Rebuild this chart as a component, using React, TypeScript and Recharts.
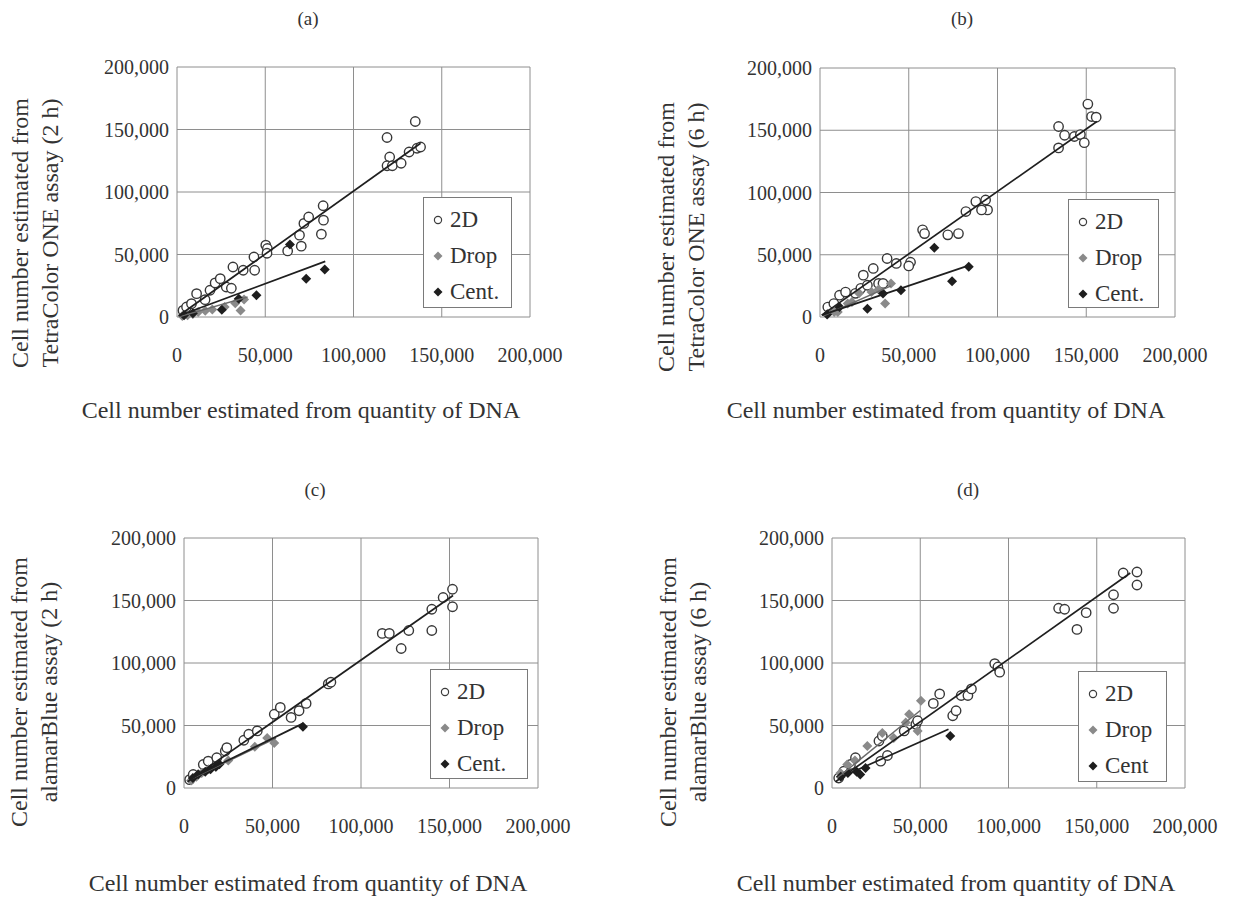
import React from "react";
import { CartesianGrid, Scatter, ScatterChart, XAxis, YAxis } from "recharts";

type Pt = [number, number];

const AXIS_TICKS = [0, 50000, 100000, 150000, 200000];
const SERIES_NAMES = ["2D", "Drop", "Cent."];
const SERIES_NAMES_D = ["2D", "Drop", "Cent"];

const X_TITLE = "Cell number estimated from quantity of DNA";
const Y_TITLE_TOP = "Cell number estimated from";
const Y_TITLE_A = "TetraColor ONE assay (2 h)";
const Y_TITLE_B = "TetraColor ONE assay (6 h)";
const Y_TITLE_C = "alamarBlue assay (2 h)";
const Y_TITLE_D = "alamarBlue assay (6 h)";

// (a) TetraColor ONE, 2 h
const a2D: Pt[] = [
  [3400, 5300], [5400, 8000], [8200, 10700], [11100, 18700], [15900, 13900],
  [18700, 21400], [21600, 27300], [24500, 30700], [27900, 24000], [30800, 23000],
  [31700, 40000], [37500, 37400], [44000, 37400], [43600, 48000], [50300, 57500],
  [51200, 54800], [51000, 51000], [62700, 52900], [70400, 56700], [69400, 65500],
  [71900, 74900], [74600, 80000], [81800, 66300], [83000, 77500], [82800, 89000],
  [119000, 143600], [120500, 128000], [119000, 121000], [122000, 121000],
  [127000, 123000], [131500, 132000], [135000, 156400], [136000, 135000],
  [138000, 136000],
];
const aDrop: Pt[] = [
  [3000, 800], [6000, 1500], [9000, 2500], [12000, 4000], [16000, 5000],
  [20000, 6000], [27000, 8000], [33000, 11000], [36000, 5300], [38000, 14000],
];
const aCent: Pt[] = [
  [4000, 1500], [9000, 3000], [25400, 5900], [35000, 14700], [45000, 17400],
  [64000, 58000], [73200, 30700], [83700, 38000],
];
const aFit2D: Pt[] = [[1000, 1000], [138000, 139000]];
const aFitDrop: Pt[] = [[2000, 500], [40000, 16000]];
const aFitCent: Pt[] = [[1000, 1000], [84000, 44500]];

// (b) TetraColor ONE, 6 h
const b2D: Pt[] = [
  [4400, 8000], [7800, 10800], [11000, 17500], [14400, 20000], [20000, 19000],
  [23000, 23000], [24400, 33600], [26700, 25500], [30000, 39000], [33000, 27000],
  [35500, 27000], [37800, 47000], [43000, 43000], [51000, 44000], [50000, 41000],
  [57800, 70000], [58900, 67000], [72000, 66000], [78000, 67000], [82200, 84700],
  [87800, 92700], [93300, 94000], [94400, 86000], [91000, 86000], [134400, 153000],
  [134400, 135800], [137800, 146000], [143300, 145000], [146700, 146500],
  [148900, 140000], [150900, 171000], [153000, 161000], [155600, 160500],
];
const bDrop: Pt[] = [
  [4400, 2700], [8000, 4000], [10000, 4000], [15600, 10800], [18000, 12000],
  [22000, 19000], [29000, 20000], [33000, 22000], [36700, 10800], [40000, 27000],
];
const bCent: Pt[] = [
  [4000, 2000], [11000, 8000], [26700, 6700], [35500, 18800], [45600, 21500],
  [64400, 55600], [74400, 28800], [83800, 40300],
];
const bFit2D: Pt[] = [[1000, 1500], [156000, 157000]];
const bFitDrop: Pt[] = [[2000, 1000], [40000, 25000]];
const bFitCent: Pt[] = [[1000, 1500], [84000, 41500]];

// (c) alamarBlue, 2 h
const c2D: Pt[] = [
  [3200, 6700], [5200, 10800], [10900, 18800], [13700, 21500], [18500, 24200],
  [23300, 29600], [24200, 32300], [33800, 38200], [36600, 43000], [41400, 45700],
  [51000, 59000], [54400, 64500], [60500, 56500], [65000, 61800], [69000, 67700],
  [81500, 83300], [83000, 84700], [112000, 123700], [116000, 123700],
  [122700, 111600], [127000, 126000], [140000, 126000], [140000, 143000],
  [146400, 152400], [151700, 159000], [151700, 145000],
];
const cDrop: Pt[] = [
  [4000, 6000], [7000, 9000], [10000, 12000], [14000, 15000], [18000, 17000],
  [25000, 22000], [40000, 33000], [47000, 40000], [51000, 36000],
];
const cCent: Pt[] = [
  [5000, 8000], [8000, 11000], [12000, 13000], [15000, 15000], [18000, 17000],
  [20000, 19000], [67200, 49000],
];
const cFit2D: Pt[] = [[2000, 5000], [152000, 154000]];
const cFitDrop: Pt[] = [[3000, 6500], [52000, 40000]];
const cFitCent: Pt[] = [[3000, 7000], [67000, 51500]];

// (d) alamarBlue, 6 h
const d2D: Pt[] = [
  [3800, 8000], [6700, 13400], [10500, 18800], [13300, 24200], [27600, 21500],
  [31400, 26000], [26600, 37600], [28500, 41700], [40900, 45700], [47500, 51000],
  [48500, 53800], [57400, 67700], [61000, 75300], [68400, 57800], [70300, 61800],
  [73200, 74000], [77000, 74000], [79000, 79300], [92200, 99500], [94000, 96800],
  [95000, 92700], [128400, 143800], [131800, 143000], [138800, 126900],
  [144000, 140300], [159500, 143800], [159500, 154600], [165000, 172000],
  [172800, 172800], [172800, 162400],
];
const dDrop: Pt[] = [
  [4800, 12000], [8600, 18800], [13000, 22000], [20000, 33600], [28500, 44000],
  [35000, 40000], [41800, 52400], [43700, 59000], [48500, 45700], [50400, 69900],
];
const dCent: Pt[] = [
  [5000, 9000], [9000, 12000], [14000, 13000], [16000, 10800], [19000, 16000],
  [67000, 41700],
];
const dFit2D: Pt[] = [[2000, 5000], [169000, 172000]];
const dFitDrop: Pt[] = [[3000, 8000], [50000, 62000]];
const dFitCent: Pt[] = [[4000, 8000], [66000, 47000]];

const SERIF = "'Liberation Serif', 'Times New Roman', serif";
const INK = "#333";
const GRID = "#8e8e8e";

const xy = (pts: Pt[]) => pts.map(([x, y]) => ({ x, y }));

const OpenCircle = (p: any) => (
  <circle cx={p.cx} cy={p.cy} r={4.7} fill="#fff" stroke="#383838" strokeWidth={1.4} />
);
const diamond = (fill: string) => (p: any) => (
  <polygon
    points={`${p.cx},${p.cy - 5} ${p.cx + 5},${p.cy} ${p.cx},${p.cy + 5} ${p.cx - 5},${p.cy}`}
    fill={fill}
  />
);
const DropMark = diamond("#8a8a8a");
const CentMark = diamond("#1e1e1e");
const NoMark = () => <g />;

type PanelProps = {
  label: string;
  labelPos: [number, number];
  plot: { left: number; top: number; w: number; h: number };
  yTitle: string;
  yTitlePos: [number, number];
  xTitlePos: [number, number];
  legend: { left: number; top: number; w: number; h: number; names: string[] };
  twoD: Pt[];
  drop: Pt[];
  cent: Pt[];
  fit2D: Pt[];
  fitDrop: Pt[];
  fitCent: Pt[];
};

const Y_AXIS_W = 110;
const X_AXIS_H = 70;
const TOP_PAD = 10;
const RIGHT_PAD = 50;

function LegendBox({ left, top, w, h, names }: PanelProps["legend"]) {
  const marks = [
    <circle key="o" cx={6} cy={6} r={3.6} fill="#fff" stroke="#3c3c3c" strokeWidth={1.2} />,
    <polygon key="d" points="6,1.5 10.5,6 6,10.5 1.5,6" fill="#8a8a8a" />,
    <polygon key="c" points="6,1.5 10.5,6 6,10.5 1.5,6" fill="#1e1e1e" />,
  ];
  return (
    <div
      style={{
        position: "absolute",
        left,
        top,
        width: w,
        height: h,
        boxSizing: "border-box",
        border: "1px solid #7a7a7a",
        background: "#fff",
        padding: "4px 0 0 8px",
      }}
    >
      {names.map((n, i) => (
        <div
          key={n}
          style={{
            display: "flex",
            alignItems: "center",
            height: 36,
            fontFamily: SERIF,
            fontSize: 23,
            color: INK,
          }}
        >
          <svg width={12} height={12} style={{ marginRight: 6 }}>
            {marks[i]}
          </svg>
          {n}
        </div>
      ))}
    </div>
  );
}

function Panel(p: PanelProps) {
  const { plot } = p;
  const tick = { fontFamily: SERIF, fontSize: 20, fill: INK };
  const fmt = (v: number) => v.toLocaleString("en-US");
  return (
    <>
      <div
        style={{
          position: "absolute",
          left: p.labelPos[0],
          top: p.labelPos[1],
          transform: "translate(-50%, -50%)",
          fontFamily: SERIF,
          fontSize: 19,
          color: INK,
        }}
      >
        {p.label}
      </div>
      <div
        style={{
          position: "absolute",
          left: plot.left - Y_AXIS_W,
          top: plot.top - TOP_PAD,
        }}
      >
        <ScatterChart
          width={Y_AXIS_W + plot.w + RIGHT_PAD}
          height={TOP_PAD + plot.h + X_AXIS_H}
          margin={{ top: TOP_PAD, right: RIGHT_PAD, bottom: 0, left: 0 }}
        >
          <CartesianGrid stroke={GRID} strokeWidth={1} />
          <XAxis
            type="number"
            dataKey="x"
            domain={[0, 200000]}
            ticks={AXIS_TICKS}
            interval={0}
            height={X_AXIS_H}
            axisLine={false}
            tickLine={false}
            tickMargin={25}
            tick={tick}
            tickFormatter={fmt}
          />
          <YAxis
            type="number"
            dataKey="y"
            domain={[0, 200000]}
            ticks={AXIS_TICKS}
            interval={0}
            width={Y_AXIS_W}
            axisLine={false}
            tickLine={false}
            tick={tick}
            tickFormatter={fmt}
          />
          <Scatter data={xy(p.twoD)} shape={OpenCircle} isAnimationActive={false} />
          <Scatter data={xy(p.drop)} shape={DropMark} isAnimationActive={false} />
          <Scatter data={xy(p.cent)} shape={CentMark} isAnimationActive={false} />
          <Scatter
            data={xy(p.fitDrop)}
            shape={NoMark}
            line={{ stroke: "#6a6a6a", strokeWidth: 1.5 }}
            isAnimationActive={false}
          />
          <Scatter
            data={xy(p.fitCent)}
            shape={NoMark}
            line={{ stroke: "#1f1f1f", strokeWidth: 1.7 }}
            isAnimationActive={false}
          />
          <Scatter
            data={xy(p.fit2D)}
            shape={NoMark}
            line={{ stroke: "#1f1f1f", strokeWidth: 1.7 }}
            isAnimationActive={false}
          />
        </ScatterChart>
      </div>
      <LegendBox {...p.legend} />
      <div
        style={{
          position: "absolute",
          left: p.yTitlePos[0],
          top: p.yTitlePos[1],
          transform: "translate(-50%, -50%) rotate(-90deg)",
          fontFamily: SERIF,
          fontSize: 24,
          lineHeight: "30px",
          color: INK,
          textAlign: "center",
          whiteSpace: "nowrap",
        }}
      >
        {Y_TITLE_TOP}
        <br />
        {p.yTitle}
      </div>
      <div
        style={{
          position: "absolute",
          left: p.xTitlePos[0],
          top: p.xTitlePos[1],
          transform: "translate(-50%, -50%)",
          fontFamily: SERIF,
          fontSize: 24,
          color: INK,
          whiteSpace: "nowrap",
        }}
      >
        {X_TITLE}
      </div>
    </>
  );
}

export default function App() {
  return (
    <div
      style={{
        position: "absolute",
        left: 0,
        top: 0,
        width: 1235,
        height: 899,
        background: "#fff",
        overflow: "hidden",
      }}
    >
      <Panel
        label="(a)"
        labelPos={[308, 19]}
        plot={{ left: 177, top: 67, w: 353, h: 250 }}
        yTitle={Y_TITLE_A}
        yTitlePos={[35, 233]}
        xTitlePos={[301, 410]}
        legend={{ left: 423, top: 197, w: 89, h: 111, names: SERIES_NAMES }}
        twoD={a2D}
        drop={aDrop}
        cent={aCent}
        fit2D={aFit2D}
        fitDrop={aFitDrop}
        fitCent={aFitCent}
      />
      <Panel
        label="(b)"
        labelPos={[962, 19]}
        plot={{ left: 820, top: 68, w: 355, h: 249 }}
        yTitle={Y_TITLE_B}
        yTitlePos={[681, 237]}
        xTitlePos={[946, 410]}
        legend={{ left: 1068, top: 199, w: 91, h: 109, names: SERIES_NAMES }}
        twoD={b2D}
        drop={bDrop}
        cent={bCent}
        fit2D={bFit2D}
        fitDrop={bFitDrop}
        fitCent={bFitCent}
      />
      <Panel
        label="(c)"
        labelPos={[315, 490]}
        plot={{ left: 184, top: 538, w: 354, h: 250 }}
        yTitle={Y_TITLE_C}
        yTitlePos={[34, 692]}
        xTitlePos={[308, 883]}
        legend={{ left: 430, top: 669, w: 98, h: 110, names: SERIES_NAMES }}
        twoD={c2D}
        drop={cDrop}
        cent={cCent}
        fit2D={cFit2D}
        fitDrop={cFitDrop}
        fitCent={cFitCent}
      />
      <Panel
        label="(d)"
        labelPos={[968, 490]}
        plot={{ left: 832, top: 538, w: 353, h: 250 }}
        yTitle={Y_TITLE_D}
        yTitlePos={[683, 692]}
        xTitlePos={[956, 883]}
        legend={{ left: 1078, top: 671, w: 89, h: 111, names: SERIES_NAMES_D }}
        twoD={d2D}
        drop={dDrop}
        cent={dCent}
        fit2D={dFit2D}
        fitDrop={dFitDrop}
        fitCent={dFitCent}
      />
    </div>
  );
}
